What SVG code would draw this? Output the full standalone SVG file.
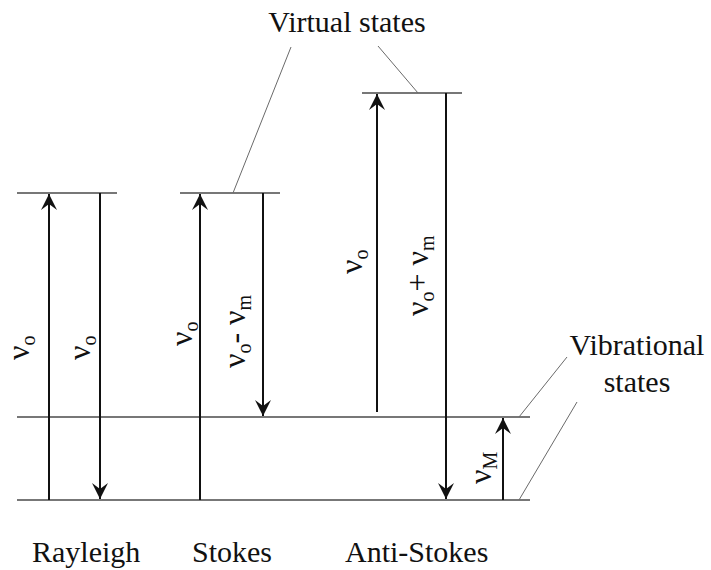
<svg xmlns="http://www.w3.org/2000/svg" width="711" height="570" viewBox="0 0 711 570">
<style>
.lvl{stroke:#4a4a4a;stroke-width:1.5;fill:none}
.lead{stroke:#6a6a6a;stroke-width:1;fill:none}
.arr{stroke:#111;stroke-width:2;fill:none}
.t{font-family:"Liberation Serif","Times New Roman",serif;font-size:30px;fill:#111}
.nu{font-family:"Liberation Serif","Times New Roman",serif;font-size:32px;fill:#111}
.sub{font-size:20px}
</style>
<defs>
<marker id="ah" viewBox="-16 -9 17 18" markerWidth="17" markerHeight="18" refX="0" refY="0" orient="auto" markerUnits="userSpaceOnUse">
<path d="M0,0 L-16,-8 L-10,0 L-16,8 Z" fill="#111"/>
</marker>
</defs>
<rect width="711" height="570" fill="#fff"/>
<g id="levels">
<line class="lvl" x1="17" y1="193" x2="117" y2="193"/>
<line class="lvl" x1="180" y1="193" x2="280" y2="193"/>
<line class="lvl" x1="362" y1="93" x2="462" y2="93"/>
<line class="lvl" x1="17" y1="417" x2="530" y2="417"/>
<line class="lvl" x1="17" y1="500" x2="530" y2="500"/>
</g>
<g id="connectors">
<line class="arr" x1="49" y1="500" x2="49" y2="194" marker-end="url(#ah)"/>
<line class="arr" x1="100" y1="193" x2="100" y2="499" marker-end="url(#ah)"/>
<line class="arr" x1="200" y1="500" x2="200" y2="194" marker-end="url(#ah)"/>
<line class="arr" x1="263" y1="193" x2="263" y2="416" marker-end="url(#ah)"/>
<line class="arr" x1="377" y1="412" x2="377" y2="94" marker-end="url(#ah)"/>
<line class="arr" x1="446" y1="93" x2="446" y2="499" marker-end="url(#ah)"/>
<line class="arr" x1="503" y1="500" x2="503" y2="418" marker-end="url(#ah)"/>
<line class="lead" x1="291" y1="47" x2="233" y2="193"/>
<line class="lead" x1="378" y1="46" x2="418" y2="93"/>
<line class="lead" x1="567" y1="357" x2="519" y2="417"/>
<line class="lead" x1="577" y1="402" x2="519" y2="500"/>
</g>
<g id="virtual-states"><text class="t" x="347" y="32" text-anchor="middle">Virtual states</text></g>
<g id="vibrational-states">
<text class="t" x="637" y="355" text-anchor="middle">Vibrational</text>
<text class="t" x="637" y="392" text-anchor="middle">states</text>
</g>
<g id="rayleigh"><text class="t" x="32" y="562">Rayleigh</text></g>
<g id="stokes"><text class="t" x="192" y="562">Stokes</text></g>
<g id="anti-stokes"><text class="t" x="345" y="562">Anti-Stokes</text></g>
<g id="labels">
<text class="nu" transform="translate(29,360) rotate(-90)">ν<tspan class="sub" dy="6">o</tspan></text>
<text class="nu" transform="translate(90,360) rotate(-90)">ν<tspan class="sub" dy="6">o</tspan></text>
<text class="nu" transform="translate(192,346) rotate(-90)">ν<tspan class="sub" dy="6">o</tspan></text>
<text class="nu" transform="translate(245,368) rotate(-90)">ν<tspan class="sub" dy="6">o</tspan><tspan dy="-6">- ν</tspan><tspan class="sub" dy="6">m</tspan></text>
<text class="nu" transform="translate(362,274) rotate(-90)">ν<tspan class="sub" dy="6">o</tspan></text>
<text class="nu" transform="translate(428,316) rotate(-90)">ν<tspan class="sub" dy="6">o</tspan><tspan dy="-6">+ ν</tspan><tspan class="sub" dy="6">m</tspan></text>
<text class="nu" transform="translate(491,484) rotate(-90)">ν<tspan class="sub" dy="6">M</tspan></text>
</g>
</svg>
